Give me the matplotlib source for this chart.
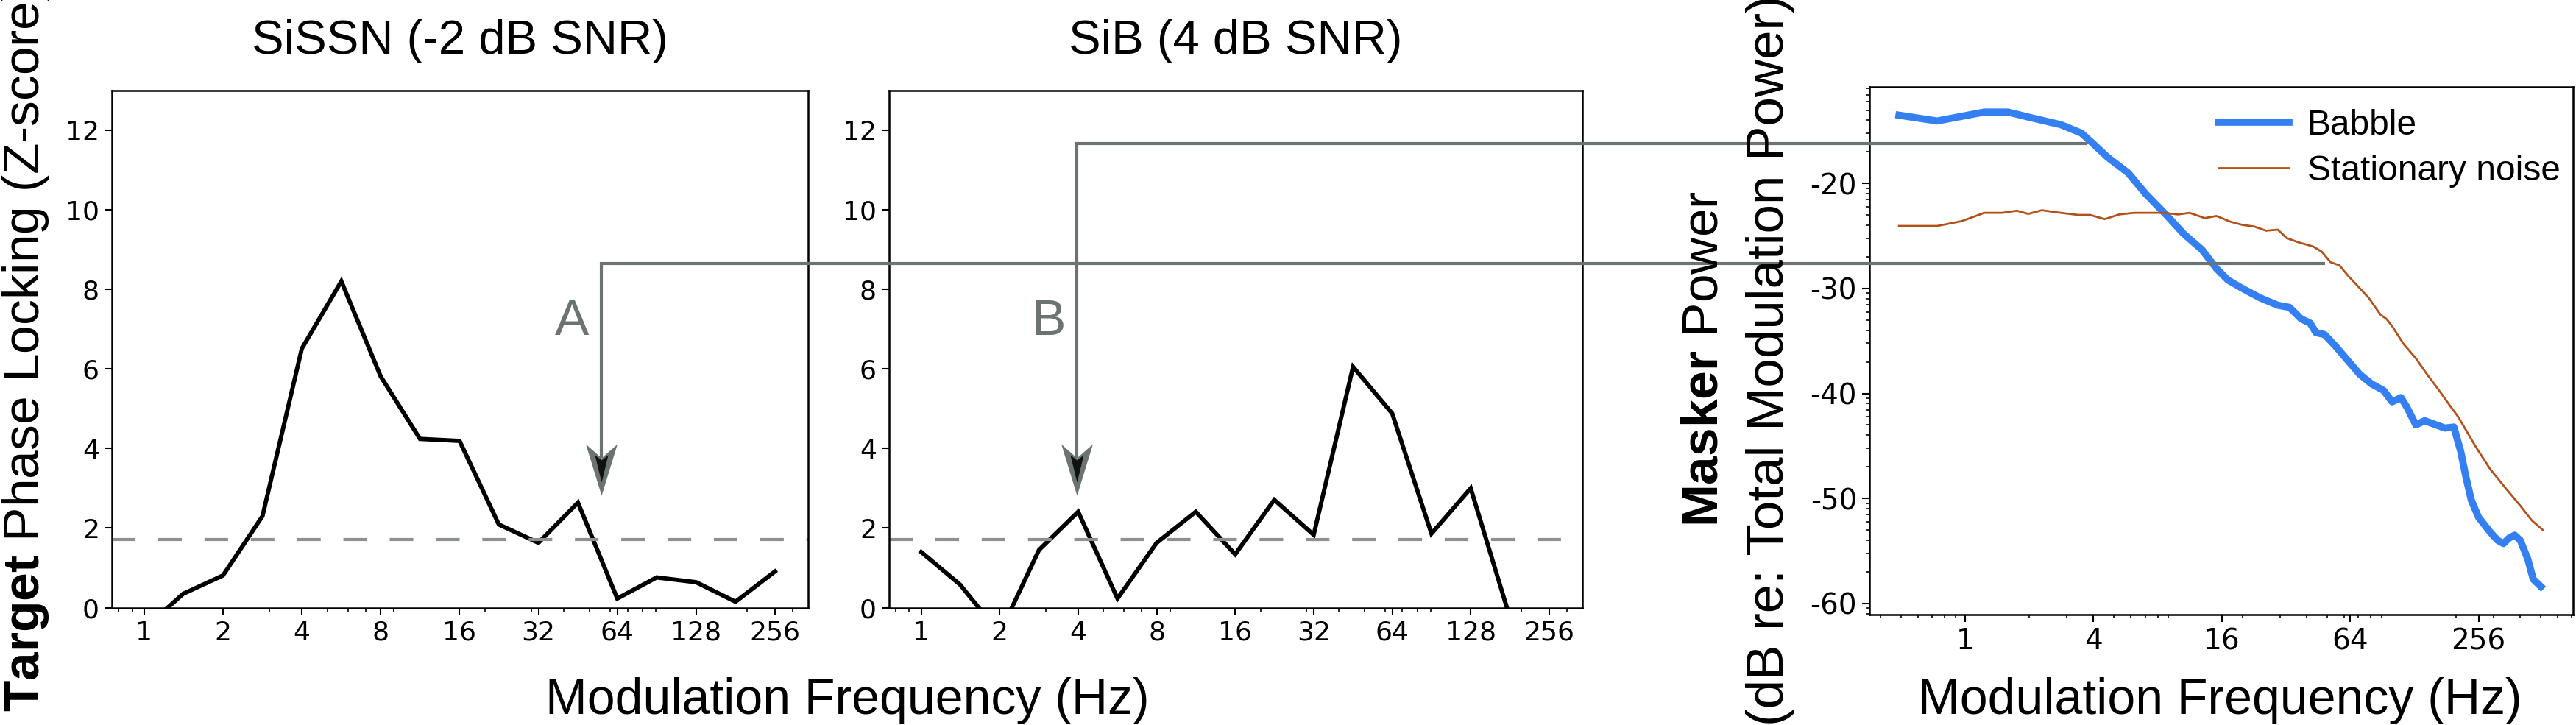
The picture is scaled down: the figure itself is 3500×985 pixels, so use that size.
import numpy as np
import matplotlib
matplotlib.use("Agg")
import matplotlib.pyplot as plt
from matplotlib.lines import Line2D
from matplotlib.path import Path
from matplotlib.ticker import FixedLocator, LogLocator, NullFormatter

plt.rcParams['font.family'] = ['Liberation Sans', 'DejaVu Sans']
plt.rcParams['mathtext.fontset'] = 'custom'
plt.rcParams['mathtext.rm'] = 'Liberation Sans'
plt.rcParams['mathtext.bf'] = 'Liberation Sans:bold'

# --- phase locking panels (half-octave modulation frequencies) ---
mod_freqs = [1, 1.41, 2, 2.83, 4, 5.66, 8, 11.3, 16, 22.6, 32, 45.3, 64, 90.5, 128, 181, 256]
sissn_z = [-0.53, 0.35, 0.81, 2.30, 6.51, 8.20, 5.81, 4.24, 4.19, 2.09, 1.63, 2.64, 0.23, 0.76, 0.64, 0.15, 0.91]
sib_z = [1.40, 0.58, -0.65, 1.45, 2.41, 0.23, 1.63, 2.41, 1.34, 2.71, 1.83, 6.05, 4.88, 1.86, 3.00, -0.25, -1.0]
z_threshold = 1.72
mod_ticks = [1, 2, 4, 8, 16, 32, 64, 128, 256]
z_ticks = [0, 2, 4, 6, 8, 10, 12]

# --- masker modulation power ---
babble_freqs = [0.49, 0.74, 1.23, 1.59, 2.05, 2.81, 3.51, 3.98, 4.66, 5.82, 7.04, 8.79, 10.6, 12.9,
                15.1, 17.1, 20.0, 24.2, 29.3, 33.2, 37.7, 41.5, 44.2, 48.6, 55.2, 62.6, 71.1, 80.7,
                91.6, 100.7, 110.8, 118, 130, 143, 162, 178, 196, 211, 223, 237, 256, 290, 315, 335,
                355, 378, 402, 436, 462, 502]
babble_db = [-13.5, -14.05, -13.2, -13.2, -13.75, -14.4, -15.2, -16.2, -17.5, -19.0, -21.0, -23.0, -24.8, -26.3,
             -28.1, -29.2, -30.0, -30.9, -31.6, -31.8, -32.9, -33.3, -34.2, -34.4, -35.6, -36.9, -38.2, -39.1,
             -39.7, -40.8, -40.4, -41.3, -43.0, -42.6, -43.0, -43.3, -43.2, -45.5, -47.9, -50.2, -51.8, -53.2, -54.0, -54.3,
             -53.8, -53.5, -54.0, -55.8, -57.7, -58.4]
noise_freqs = [0.49, 0.74, 0.96, 1.23, 1.49, 1.75, 1.98, 2.29, 2.81, 3.40, 3.86, 4.52, 5.29, 6.2, 7.27,
               8.51, 9.97, 11.3, 13.3, 15.1, 17.6, 20.0, 22.7, 25.8, 29.3, 32.2, 36.5, 42.8, 47.1, 51.8,
               57, 62.6, 68.9, 78.2, 88.8, 94.6, 100.7, 114, 130, 147, 167, 190, 205, 247, 290, 342,
               402, 455, 512]
noise_db = [-24.05, -24.05, -23.6, -22.8, -22.8, -22.6, -22.9, -22.55, -22.8, -23.0, -23.0, -23.4, -22.95, -22.8, -22.8,
            -22.8, -22.95, -22.8, -23.3, -23.1, -23.65, -23.95, -24.1, -24.5, -24.4, -25.2, -25.6, -26.0, -26.5, -27.5,
            -27.8, -28.8, -29.7, -30.9, -32.5, -32.9, -33.6, -35.3, -36.65, -38.2, -39.7, -41.3, -42.2, -45.0, -47.2, -49.0,
            -50.7, -52.1, -53.0]
power_xticks = [1, 4, 16, 64, 256]
power_yticks = [-20, -30, -40, -50, -60]

# --- A / B call-outs: frequency of arrow, masker level, where the line meets the curve ---
callout_labels = ['A', 'B']
callout_freq = [55.8, 3.95]
callout_level = [-27.6, -16.2]
callout_end_freq = [48.7, 3.74]
callout_label_freq = [42.9, 3.07]
callout_label_z = 7.18
arrow_tip_z = 2.82

GRAY = '#6b7373'
DASH_GRAY = '#8b9090'
BLUE = '#3480f2'
BROWN = '#b3501a'
TICK_FONT = 'DejaVu Sans'

fig = plt.figure(figsize=(35, 9.85), dpi=100)
ax1 = fig.add_axes([0.0434, 0.1618, 0.2703, 0.7138])
ax2 = fig.add_axes([0.3451, 0.1618, 0.2691, 0.7138])
ax3 = fig.add_axes([0.7257, 0.1518, 0.2731, 0.7284])


def style_axes(ax, size):
    for s in ax.spines.values():
        s.set_linewidth(1.8)
    ax.tick_params(which='major', direction='out', length=7.2, width=1.5, labelsize=size, pad=5)
    ax.tick_params(which='minor', direction='out', length=3.6, width=1.2)
    for lab in ax.get_xticklabels() + ax.get_yticklabels():
        lab.set_family(TICK_FONT)


for ax, z, title in [(ax1, sissn_z, 'SiSSN (-2 dB SNR)'), (ax2, sib_z, 'SiB (4 dB SNR)')]:
    ax.plot(mod_freqs, z, color='black', lw=4.2, solid_joinstyle='miter')
    ax.axhline(z_threshold, color=DASH_GRAY, lw=3, dashes=(7.7, 7.4))
    ax.set_xscale('log')
    ax.set_xlim(2 ** -0.41, 2 ** 8.42)
    ax.set_ylim(0, 13)
    ax.xaxis.set_major_locator(FixedLocator(mod_ticks))
    ax.set_xticklabels([str(t) for t in mod_ticks])
    ax.xaxis.set_minor_locator(LogLocator(base=10, subs=np.arange(2, 10)))
    ax.xaxis.set_minor_formatter(NullFormatter())
    ax.set_yticks(z_ticks)
    ax.set_title(title, fontsize=47, pad=36)
    style_axes(ax, 26)

# masker power panel
ax3.plot(babble_freqs, babble_db, color=BLUE, lw=7, label='Babble', solid_joinstyle='round')
ax3.plot(noise_freqs, noise_db, color=BROWN, lw=2, label='Stationary noise')
ax3.set_xscale('log')
ax3.set_xlim(2 ** -1.49, 2 ** 9.47)
ax3.set_ylim(-61.1, -10.8)
ax3.xaxis.set_major_locator(FixedLocator(power_xticks))
ax3.set_xticklabels([str(t) for t in power_xticks])
ax3.xaxis.set_minor_locator(LogLocator(base=10, subs=np.arange(2, 10)))
ax3.xaxis.set_minor_formatter(NullFormatter())
ax3.set_yticks(power_yticks)
ax3.set_yticklabels([str(t) for t in power_yticks])
# minor ticks in the power (log) sense: major + 10*log10(k)
ax3.yaxis.set_minor_locator(FixedLocator([m + 10 * np.log10(k) for m in range(-70, -9, 10) for k in range(2, 10)]))
style_axes(ax3, 28)
ax3.legend(loc='upper right', frameon=False, fontsize=34.5, handlelength=2.0, handletextpad=0.52,
           labelspacing=0.35, borderaxespad=0.0, borderpad=0.4, bbox_to_anchor=(1.002, 0.985))

# axis labels
fig.text(1151 / 3500, 15 / 985, 'Modulation Frequency (Hz)', fontsize=49, ha='center', va='baseline')
fig.text(3016 / 3500, 15 / 985, 'Modulation Frequency (Hz)', fontsize=49, ha='center', va='baseline')
fig.text(53 / 3500, 1 - 474 / 985, r'$\mathbf{Target}$ Phase Locking (Z-score)', fontsize=50,
         rotation=90, rotation_mode='anchor', ha='center', va='baseline')
fig.text(2334 / 3500, 1 - 488 / 985, r'$\mathbf{Masker}$ Power', fontsize=50,
         rotation=90, rotation_mode='anchor', ha='center', va='baseline')
fig.text(2423 / 3500, 1 - 490 / 985, '(dB re: Total Modulation Power)', fontsize=51,
         rotation=90, rotation_mode='anchor', ha='center', va='baseline')

# call-out lines from each phase-locking panel to the masker spectrum
outer_head = Path([(0, 0), (-21.5, 70), (0, 51), (21.5, 70), (0, 0)], closed=True)
inner_head = Path([(0, 18), (-9, 55), (0, 48), (9, 55), (0, 18)], closed=True)
notch_z = 51 / 54.0
to_fig = fig.transFigure.inverted()
for ax, lab, f, lvl, f_end, f_lab in zip([ax1, ax2], callout_labels, callout_freq, callout_level,
                                         callout_end_freq, callout_label_freq):
    corner_y = ax3.transData.transform((1, lvl))[1]
    corner_x = ax.transData.transform((f, 1))[0]
    end_x = ax3.transData.transform((f_end, lvl))[0]
    bottom_y = ax.transData.transform((f, arrow_tip_z + notch_z))[1]
    pts = to_fig.transform([(end_x, corner_y), (corner_x, corner_y), (corner_x, bottom_y)])
    fig.add_artist(Line2D(pts[:, 0], pts[:, 1], transform=fig.transFigure, color=GRAY, lw=3,
                          solid_joinstyle='miter', solid_capstyle='butt'))
    ax.plot([f], [arrow_tip_z], marker=outer_head, markersize=2 * 70 * 0.72, color=GRAY,
            markeredgewidth=0, clip_on=False, zorder=5)
    ax.plot([f], [arrow_tip_z], marker=inner_head, markersize=2 * 55 * 0.72, color='#111111',
            markeredgewidth=0, clip_on=False, zorder=6)
    ax.text(f_lab, callout_label_z, lab, fontsize=50, color=GRAY, ha='center', va='center')

fig.savefig('out.png', dpi=100, facecolor='white')
